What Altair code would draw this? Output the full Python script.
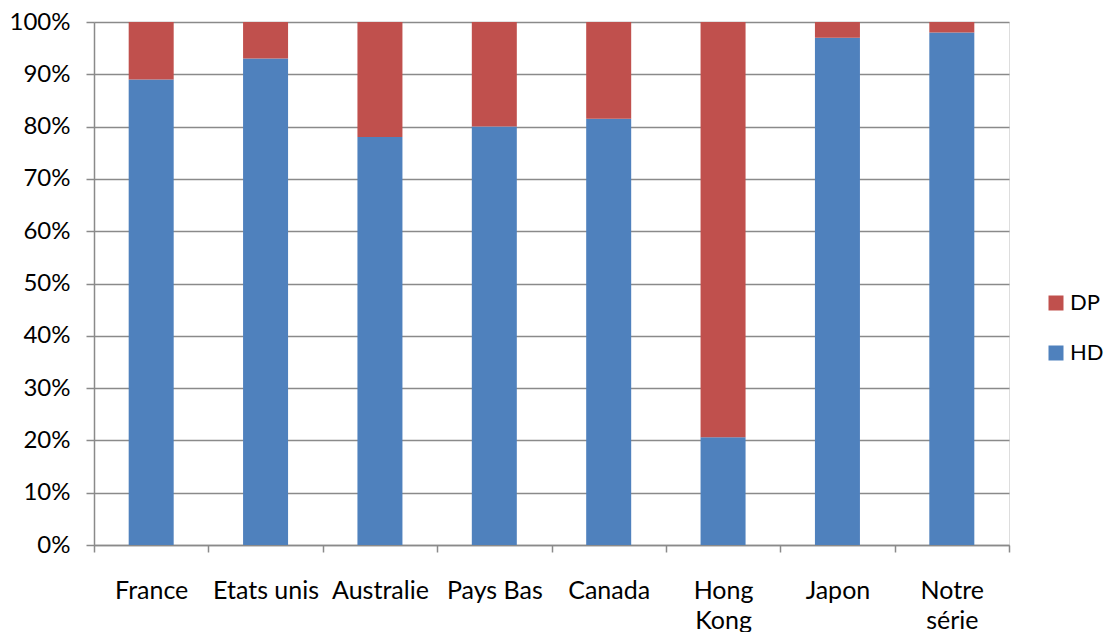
import altair as alt
import pandas as pd

# Share of HD vs DP by country (percent)
countries = ["France", "Etats unis", "Australie", "Pays Bas", "Canada",
             "Hong\nKong", "Japon", "Notre\nsérie"]
hd = [89, 93, 78, 80, 81.5, 20.6, 97, 98]
dp = [100 - v for v in hd]

rows = []
for c, h, d in zip(countries, hd, dp):
    rows.append({"pays": c, "serie": "HD", "valeur": h, "ordre": 0})
    rows.append({"pays": c, "serie": "DP", "valeur": d, "ordre": 1})
df = pd.DataFrame(rows)

FONT = "Lato"
GRID = "#8a8a8a"

chart = alt.Chart(df).mark_bar(strokeWidth=0, size=45).encode(
    x=alt.X("pays:N", sort=countries, title=None,
            scale=alt.Scale(paddingInner=0, paddingOuter=0),
            axis=alt.Axis(labelAngle=0, labelExpr="split(datum.label, '\\n')",
                          labelFontSize=25, labelFont=FONT, labelColor="#000",
                          labelPadding=26, labelLineHeight=30,
                          tickBand="extent", tickSize=7, tickColor=GRID,
                          tickWidth=1.5, domainColor=GRID, domainWidth=1.5,
                          grid=False)),
    y=alt.Y("valeur:Q", stack="normalize", title=None,
            scale=alt.Scale(domain=[0, 1]),
            axis=alt.Axis(format=".0%", values=[i / 10 for i in range(11)],
                          labelFontSize=24, labelFont=FONT, labelColor="#000",
                          labelPadding=16, tickSize=8, tickColor=GRID,
                          tickWidth=1.5, domainColor=GRID, domainWidth=1.5,
                          gridColor=GRID, gridWidth=1.5, gridOpacity=1)),
    color=alt.Color("serie:N",
                    scale=alt.Scale(domain=["DP", "HD"],
                                    range=["#C0504D", "#4F81BD"]),
                    legend=alt.Legend(title=None, orient="none",
                                      legendX=951, legendY=270,
                                      symbolType="square", symbolSize=225,
                                      symbolStrokeWidth=0,
                                      labelFont=FONT, labelFontSize=22,
                                      labelColor="#000", rowPadding=28,
                                      labelOffset=3)),
    order=alt.Order("ordre:Q"),
).properties(
    width=915, height=523,
    autosize=alt.AutoSizeParams(type="none"),
    padding={"left": 94, "top": 22, "right": 100, "bottom": 87},
).configure_view(stroke=None).configure(background="white")

chart.save("out.html", embed_options={"renderer": "svg", "actions": False})
